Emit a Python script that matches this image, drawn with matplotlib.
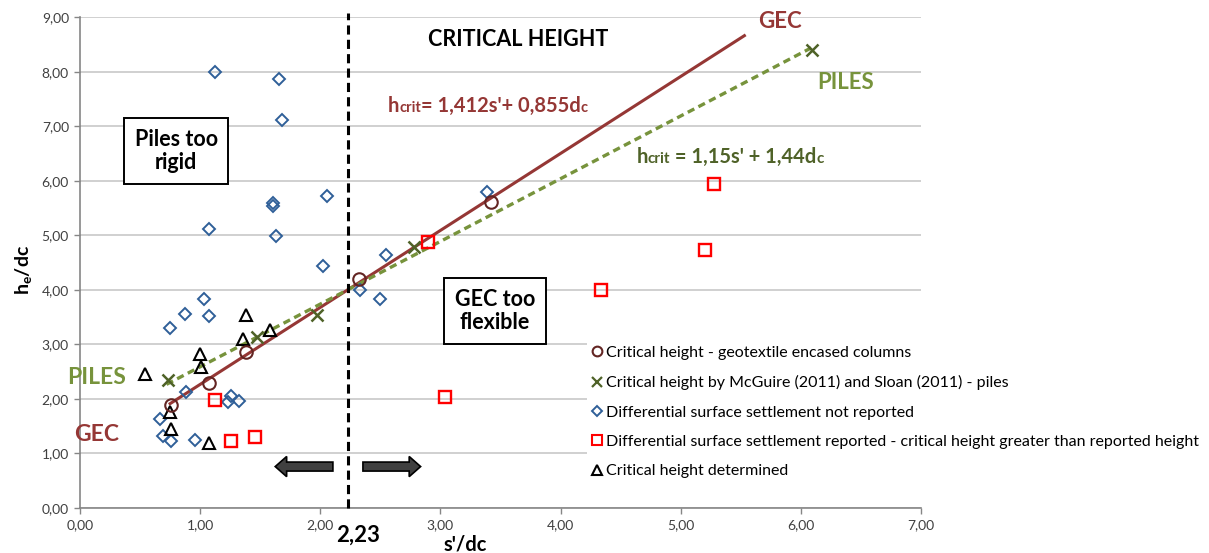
import matplotlib
matplotlib.use("Agg")
import matplotlib.pyplot as plt
from matplotlib.patches import FancyArrow
from matplotlib.lines import Line2D
from matplotlib.transforms import offset_copy
import numpy as np

plt.rcParams["font.family"] = ["Lato", "DejaVu Sans"]
plt.rcParams["mathtext.fontset"] = "custom"
plt.rcParams["mathtext.rm"] = "Lato"
plt.rcParams["mathtext.bf"] = "Lato:bold"
plt.rcParams["mathtext.it"] = "Lato:italic"

# ---- data ---------------------------------------------------------------
gec_x = [0.76, 1.075, 1.38, 2.32, 3.42]
gec_y = [1.88, 2.30, 2.87, 4.20, 5.61]

piles_x = [0.73, 1.47, 1.97, 2.78, 6.09]
piles_y = [2.34, 3.14, 3.54, 4.79, 8.40]

not_reported_x = [1.12, 1.66, 1.68, 1.61, 1.61, 2.06, 1.07, 1.63, 2.02, 3.39,
                  2.55, 2.33, 2.50, 1.03, 0.87, 1.07, 0.75, 0.88, 0.67, 0.69,
                  0.76, 0.96, 1.235, 1.26, 1.325]
not_reported_y = [7.99, 7.87, 7.12, 5.60, 5.54, 5.73, 5.12, 4.98, 4.43, 5.79,
                  4.64, 4.00, 3.83, 3.83, 3.55, 3.52, 3.31, 2.13, 1.63, 1.32,
                  1.23, 1.25, 1.95, 2.06, 1.97]

reported_x = [1.12, 1.26, 1.46, 2.90, 3.04, 4.34, 5.20, 5.28]
reported_y = [1.99, 1.23, 1.31, 4.87, 2.04, 4.00, 4.73, 5.94]

determined_x = [0.54, 0.75, 0.755, 1.00, 1.01, 1.075, 1.38, 1.355, 1.58]
determined_y = [2.45, 1.76, 1.45, 2.83, 2.58, 1.19, 3.54, 3.10, 3.27]

# critical height trend lines  h = a*s' + b*dc
gec_coef = (1.412, 0.855)
gec_range = (0.75, 5.53)
piles_coef = (1.15, 1.44)
piles_range = (0.72, 6.10)

s_crit = 2.23

xticks = [0, 1, 2, 3, 4, 5, 6, 7]
xtick_labels = ["0,00", "1,00", "2,00", "3,00", "4,00", "5,00", "6,00", "7,00"]
yticks = [0, 1, 2, 3, 4, 5, 6, 7, 8, 9]
ytick_labels = ["0,00", "1,00", "2,00", "3,00", "4,00", "5,00", "6,00", "7,00", "8,00", "9,00"]

legend_labels = [
    "Critical height - geotextile encased columns",
    "Critical height by McGuire (2011) and Sloan (2011) - piles",
    "Differential surface settlement not reported",
    "Differential surface settlement reported - critical height greater than reported height",
    "Critical height determined",
]

# ---- colours ------------------------------------------------------------
C_GEC = "#953735"
C_CIRCLE = "#632523"
C_PILES = "#77933C"
C_PILES_DARK = "#4F6228"
C_DIAMOND = "#2F5F98"
C_SQUARE = "#FF0000"
C_GRID = "#C8C8C8"
C_TICK = "#404040"

W, H = 1209, 553
fig = plt.figure(figsize=(W / 100, H / 100), dpi=100)
ax = fig.add_axes([80 / W, 1 - 508 / H, (921 - 80) / W, (508 - 17.3) / H])

ax.set_xlim(0, 7)
ax.set_ylim(0, 9)
ax.set_xticks(xticks)
ax.set_xticklabels(xtick_labels)
ax.set_yticks(yticks)
ax.set_yticklabels(ytick_labels)
ax.tick_params(axis="both", labelsize=10, colors=C_TICK, length=4, width=1,
               color="#868686", pad=4)
ax.grid(axis="y", color=C_GRID, linewidth=1.2)
ax.set_axisbelow(True)
for side in ("top", "right"):
    ax.spines[side].set_visible(False)
for side in ("left", "bottom"):
    ax.spines[side].set_color("#868686")
    ax.spines[side].set_linewidth(1.2)

# trend lines
gx = np.array(gec_range)
ax.plot(gx, gec_coef[0] * gx + gec_coef[1], color=C_GEC, lw=2.2, zorder=3)
px = np.array(piles_range)
ax.plot(px, piles_coef[0] * px + piles_coef[1], color=C_PILES, lw=2.4,
        linestyle=(0, (2.2, 1.4)), zorder=3)

# markers
ax.plot(not_reported_x, not_reported_y, "D", ms=6.5, mfc="none", mec=C_DIAMOND,
        mew=1.4, ls="none", zorder=4)
ax.plot(reported_x, reported_y, "s", ms=8.5, mfc="none", mec=C_SQUARE,
        mew=1.7, ls="none", zorder=4)
ax.plot(determined_x, determined_y, "^", ms=9, mfc="none", mec="black",
        mew=1.5, ls="none", zorder=4)
ax.plot(gec_x, gec_y, "o", ms=9, mfc="none", mec=C_CIRCLE, mew=1.5,
        ls="none", zorder=5)
ax.plot(piles_x, piles_y, "x", ms=8, mec=C_PILES_DARK, mew=1.8,
        ls="none", zorder=5)

# critical s'/dc divider
ax.plot([s_crit, s_crit], [0, 9.08], color="black", lw=2.2,
        linestyle=(0, (3.0, 1.7)), clip_on=False, zorder=6)
ax.text(s_crit + 0.085, -0.5, "2,23", ha="center", va="center", fontsize=16,
        fontweight="bold", color="black")

# direction arrows
arrow_kw = dict(width=0.165, head_width=0.37, head_length=0.095,
                length_includes_head=True, facecolor="#404040",
                edgecolor="black", linewidth=1.2, zorder=6)
ax.add_patch(FancyArrow(s_crit - 0.125, 0.76, -0.48, 0, **arrow_kw))
ax.add_patch(FancyArrow(s_crit + 0.125, 0.76, 0.48, 0, **arrow_kw))

# annotations
ax.text(3.646, 8.59, "CRITICAL HEIGHT", ha="center", va="center",
        fontsize=15.5, fontweight="bold", color="black")
ax.text(5.83, 8.93, "GEC", ha="center", va="center", fontsize=16,
        fontweight="bold", color=C_GEC, clip_on=False)
ax.text(6.376, 7.80, "PILES", ha="center", va="center", fontsize=16,
        fontweight="bold", color=C_PILES)
ax.text(0.14, 2.385, "PILES", ha="center", va="center", fontsize=16.5,
        fontweight="bold", color=C_PILES, clip_on=False)
ax.text(0.14, 1.35, "GEC", ha="center", va="center", fontsize=16.5,
        fontweight="bold", color=C_GEC, clip_on=False)

box = dict(boxstyle="square,pad=0.5", facecolor="white", edgecolor="black",
           linewidth=1.4)
ax.text(0.80, 6.55, "Piles too\nrigid", ha="center", va="center", fontsize=15.5,
        fontweight="bold", linespacing=1.15, bbox=box, zorder=7)
ax.text(3.455, 3.615, "GEC too\nflexible", ha="center", va="center",
        fontsize=15.5, fontweight="bold", linespacing=1.15, bbox=box, zorder=7)


def rich_text(x, y, parts, color):
    renderer = fig.canvas.get_renderer()
    dx = 0.0
    for s, size in parts:
        tr = offset_copy(ax.transData, fig=fig, x=dx, y=0, units="dots")
        t = ax.text(x, y, s, transform=tr, fontsize=size, fontweight="bold",
                    color=color, ha="left", va="baseline", zorder=7)
        dx += t.get_window_extent(renderer).width


rich_text(2.564, 7.266, [("h", 14.5), ("crit", 10.5), ("= 1,412s'+ 0,855d", 14.5),
                         ("c", 10.5)], C_GEC)
rich_text(4.63, 6.33, [("h", 14.5), ("crit", 11), (" = 1,15s' + 1,44d", 14.5),
                       ("c", 11)], C_PILES_DARK)

# axis titles
ax.text((465 - 80) / 841, -0.075, "s'/dc", transform=ax.transAxes,
        ha="center", va="center", fontsize=14.5, fontweight="bold")
fig.text(23 / W, 1 - 270 / H, r"$\mathbf{h_e/dc}$", rotation=90,
         ha="center", va="center", fontsize=14)

# legend
handles = [
    Line2D([], [], marker="o", ls="none", ms=7, mfc="none", mec=C_CIRCLE, mew=1.5),
    Line2D([], [], marker="x", ls="none", ms=7, mec=C_PILES_DARK, mew=1.6),
    Line2D([], [], marker="D", ls="none", ms=5.5, mfc="none", mec=C_DIAMOND, mew=1.4),
    Line2D([], [], marker="s", ls="none", ms=7, mfc="none", mec=C_SQUARE, mew=1.5),
    Line2D([], [], marker="^", ls="none", ms=7.5, mfc="none", mec="black", mew=1.5),
]
leg = fig.legend(handles, legend_labels, loc="upper left",
                 bbox_to_anchor=(587 / W, 1 - 341 / H), fontsize=11.5,
                 frameon=True, framealpha=1, facecolor="white",
                 edgecolor="none", fancybox=False, handlelength=0.6,
                 handletextpad=0.3, labelspacing=0.95, borderpad=0.3,
                 borderaxespad=0)

fig.savefig("out.png", dpi=100)
